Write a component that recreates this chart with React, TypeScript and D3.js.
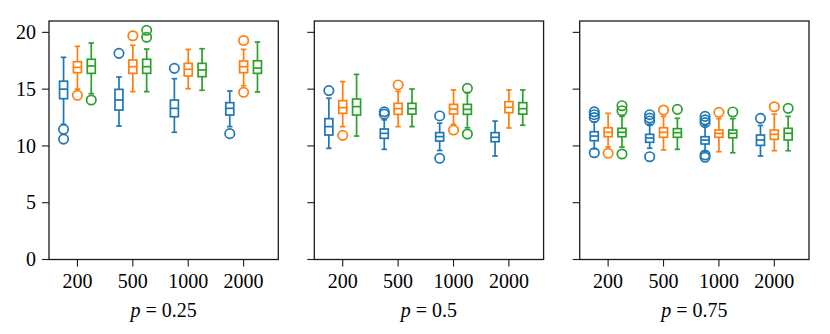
import React from "react";
import * as d3 from "d3";

// categories and panels
const sizes = ["200", "500", "1000", "2000"];
const panels = ["0.25", "0.5", "0.75"];
const yTicks = [0, 5, 10, 15, 20];
const seriesColors = ["#1f77b4", "#ff7f0e", "#2ca02c"];

// [whiskerLow, q1, median, q3, whiskerHigh] per panel, per size
const blueStats = [
  [[11.9, 14.16, 15.0, 15.7, 17.8], [11.75, 13.16, 14.04, 14.98, 16.07], [11.2, 12.57, 13.31, 14.04, 15.92], [11.7, 12.72, 13.31, 13.81, 14.84]],
  [[9.79, 10.96, 11.7, 12.4, 14.2], [9.7, 10.67, 11.11, 11.49, 12.3], [9.6, 10.43, 10.82, 11.17, 12.0], [9.11, 10.37, 10.76, 11.17, 12.19]],
  [[9.75, 10.46, 10.87, 11.25, 12.1], [9.8, 10.32, 10.7, 11.02, 11.9], [9.5, 10.17, 10.52, 10.81, 11.8], [9.11, 10.05, 10.52, 10.96, 11.8]],
];
const orangeStats = [
  [[15.0, 16.45, 16.92, 17.42, 18.77], [14.78, 16.39, 16.98, 17.57, 18.86], [15.04, 16.16, 16.75, 17.27, 18.5], [15.3, 16.45, 16.98, 17.48, 18.5]],
  [[11.7, 12.87, 13.37, 13.98, 15.66], [11.7, 12.78, 13.28, 13.75, 14.8], [11.9, 12.81, 13.25, 13.66, 14.93], [11.58, 12.93, 13.4, 13.9, 14.93]],
  [[9.9, 10.81, 11.2, 11.6, 12.87], [9.64, 10.76, 11.2, 11.6, 12.6], [9.49, 10.76, 11.11, 11.4, 12.4], [9.58, 10.58, 11.02, 11.4, 12.8]],
];
const greenStats = [
  [[14.6, 16.39, 17.04, 17.63, 19.06], [14.78, 16.39, 16.98, 17.63, 18.53], [14.9, 16.1, 16.69, 17.27, 18.56], [14.75, 16.39, 16.85, 17.5, 19.15]],
  [[10.87, 12.72, 13.46, 14.13, 16.3], [11.7, 12.8, 13.28, 13.75, 15.01], [11.6, 12.78, 13.22, 13.66, 14.7], [11.82, 12.8, 13.28, 13.81, 14.93]],
  [[9.9, 10.81, 11.2, 11.55, 12.6], [9.7, 10.76, 11.17, 11.52, 12.43], [9.4, 10.72, 11.11, 11.4, 12.4], [9.58, 10.52, 11.11, 11.55, 12.6]],
];

// fliers per panel, per size
const blueOutliers = [
  [[11.46, 10.6], [18.15], [16.83], [11.08]],
  [[14.87], [13.0, 12.8], [12.64, 8.91], []],
  [[13.0, 12.75, 12.5, 9.4], [12.75, 12.45, 12.2, 9.05], [12.6, 12.3, 12.05, 9.2, 9.0], [12.43]],
];
const orangeOutliers = [
  [[14.46], [19.7], [], [19.28, 14.72]],
  [[10.93], [15.37], [11.4], []],
  [[9.35], [13.16], [12.96], [13.45]],
];
const greenOutliers = [
  [[14.04], [20.18, 19.57], [], []],
  [[], [], [15.07, 11.05], []],
  [[13.54, 13.1, 9.29], [13.22], [12.99], [13.31]],
];

const allStats = [blueStats, orangeStats, greenStats];
const allOutliers = [blueOutliers, orangeOutliers, greenOutliers];

const W = 830;
const H = 334;
const panelLefts = [49, 314.3, 579.7];
const panelW = 229.3;
const top = 21;
const bottom = 259.5;
const offsets = [-0.25, 0, 0.25];
const boxW = 8;
const capW = 5.5;
const font = "'Liberation Serif', 'Times New Roman', serif";
const axisColor = "#1a1a1a";

export default function App() {
  const y = d3.scaleLinear().domain([0, 21]).range([bottom, top]);
  return (
    <svg width={W} height={H} style={{ position: "absolute", left: 0, top: 0, background: "#fff" }}>
      {panels.map((p, pi) => {
        const left = panelLefts[pi];
        const x = d3.scaleLinear().domain([-0.513, 3.626]).range([left, left + panelW]);
        return (
          <g key={p}>
            {allStats.map((stats, si) =>
              stats[pi].map((s, ci) => {
                const cx = x(ci + offsets[si]);
                const col = seriesColors[si];
                const [wl, q1, md, q3, wh] = s;
                return (
                  <g key={`${si}-${ci}`} stroke={col} strokeWidth={1.7} fill="none">
                    <line x1={cx} x2={cx} y1={y(wl)} y2={y(q1)} />
                    <line x1={cx} x2={cx} y1={y(q3)} y2={y(wh)} />
                    <line x1={cx - capW / 2} x2={cx + capW / 2} y1={y(wl)} y2={y(wl)} />
                    <line x1={cx - capW / 2} x2={cx + capW / 2} y1={y(wh)} y2={y(wh)} />
                    <rect x={cx - boxW / 2} y={y(q3)} width={boxW} height={y(q1) - y(q3)} />
                    <line x1={cx - boxW / 2} x2={cx + boxW / 2} y1={y(md)} y2={y(md)} />
                    {allOutliers[si][pi][ci].map((o, oi) => (
                      <circle key={oi} cx={cx} cy={y(o)} r={4.7} />
                    ))}
                  </g>
                );
              })
            )}
            <rect x={left} y={top} width={panelW} height={bottom - top} fill="none" stroke={axisColor} strokeWidth={1.3} />
            {yTicks.map((t) => (
              <g key={t}>
                <line x1={left - 7} x2={left} y1={y(t)} y2={y(t)} stroke={axisColor} strokeWidth={1.1} />
                {pi === 0 && (
                  <text x={left - 13} y={y(t)} dy="0.33em" textAnchor="end" fontFamily={font} fontSize={20} fill="#000">
                    {t}
                  </text>
                )}
              </g>
            ))}
            {sizes.map((s, ci) => (
              <g key={s}>
                <line x1={x(ci)} x2={x(ci)} y1={bottom} y2={bottom + 7} stroke={axisColor} strokeWidth={1.1} />
                <text x={x(ci)} y={288} textAnchor="middle" fontFamily={font} fontSize={20} fill="#000">
                  {s}
                </text>
              </g>
            ))}
            <text x={left + panelW / 2} y={317} textAnchor="middle" fontFamily={font} fontSize={20} fill="#000">
              <tspan fontStyle="italic">p</tspan>
              <tspan dx={5}>=</tspan>
              <tspan dx={5}>{p}</tspan>
            </text>
          </g>
        );
      })}
    </svg>
  );
}
